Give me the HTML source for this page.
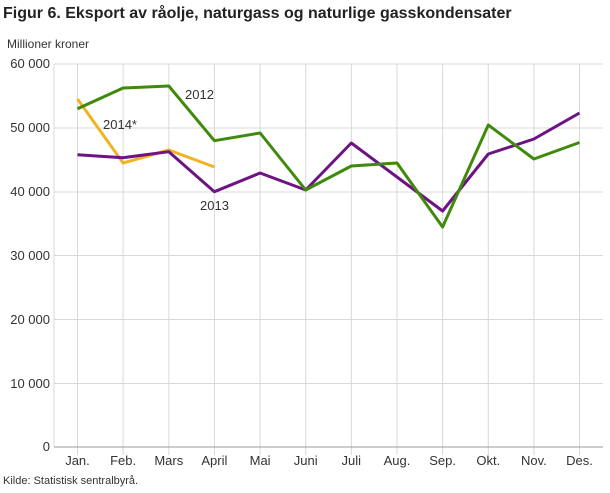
<!DOCTYPE html>
<html><head><meta charset="utf-8"><style>
body{margin:0;background:#fff;width:610px;height:488px;overflow:hidden}
text{font-family:"Liberation Sans",sans-serif;fill:#333}
</style></head><body>
<svg width="610" height="488" xmlns="http://www.w3.org/2000/svg">
<text x="3" y="18" font-size="16" font-weight="bold" style="fill:#222">Figur 6. Eksport av råolje, naturgass og naturlige gasskondensater</text>
<text x="7" y="48" font-size="12">Millioner kroner</text>
<g stroke="#d8d8d8" stroke-width="1">
<line x1="54" x2="603" y1="64" y2="64"/><line x1="54" x2="603" y1="128" y2="128"/><line x1="54" x2="603" y1="192" y2="192"/><line x1="54" x2="603" y1="255.5" y2="255.5"/><line x1="54" x2="603" y1="319.5" y2="319.5"/><line x1="54" x2="603" y1="383.5" y2="383.5"/>
<line x1="54" x2="54" y1="64" y2="447"/>
<line x1="77.5" x2="77.5" y1="64" y2="455"/><line x1="123.1" x2="123.1" y1="64" y2="455"/><line x1="168.8" x2="168.8" y1="64" y2="455"/><line x1="214.4" x2="214.4" y1="64" y2="455"/><line x1="260.1" x2="260.1" y1="64" y2="455"/><line x1="305.7" x2="305.7" y1="64" y2="455"/><line x1="351.3" x2="351.3" y1="64" y2="455"/><line x1="397" x2="397" y1="64" y2="455"/><line x1="442.6" x2="442.6" y1="64" y2="455"/><line x1="488.3" x2="488.3" y1="64" y2="455"/><line x1="533.9" x2="533.9" y1="64" y2="455"/><line x1="579.5" x2="579.5" y1="64" y2="455"/>
</g>
<line x1="54" x2="603" y1="447" y2="447" stroke="#999" stroke-width="1"/>
<g font-size="13" text-anchor="end">
<text x="50" y="68">60 000</text><text x="50" y="132">50 000</text><text x="50" y="196">40 000</text><text x="50" y="260">30 000</text><text x="50" y="324">20 000</text><text x="50" y="388">10 000</text><text x="50" y="451">0</text>
</g>
<g font-size="13" text-anchor="middle">
<text x="77.5" y="465">Jan.</text><text x="123.1" y="465">Feb.</text><text x="168.8" y="465">Mars</text><text x="214.4" y="465">April</text><text x="260.1" y="465">Mai</text><text x="305.7" y="465">Juni</text><text x="351.3" y="465">Juli</text><text x="397" y="465">Aug.</text><text x="442.6" y="465">Sep.</text><text x="488.3" y="465">Okt.</text><text x="533.9" y="465">Nov.</text><text x="579.5" y="465">Des.</text>
</g>
<g fill="none" stroke-width="3" stroke-linejoin="round">
<polyline stroke="#f0b323" points="77.5,99 123.1,163 168.8,150 214.4,167"/>
<polyline stroke="#6d1384" points="77.5,154.7 123.1,157.7 168.8,151.7 214.4,191.7 260.1,173 305.7,190 351.3,143 397,177 442.6,211 488.3,154 533.9,139 579.5,113"/>
<polyline stroke="#3f8a0c" points="77.5,108.7 123.1,88 168.8,86 214.4,140.7 260.1,133 305.7,190 351.3,166 397,163 442.6,227 488.3,125 533.9,159 579.5,142.5"/>
</g>
<g font-size="13">
<text x="185" y="99">2012</text><text x="103" y="129">2014*</text><text x="200" y="210">2013</text>
</g>
<text x="3" y="484" font-size="11">Kilde: Statistisk sentralbyrå.</text>
</svg>
</body></html>
